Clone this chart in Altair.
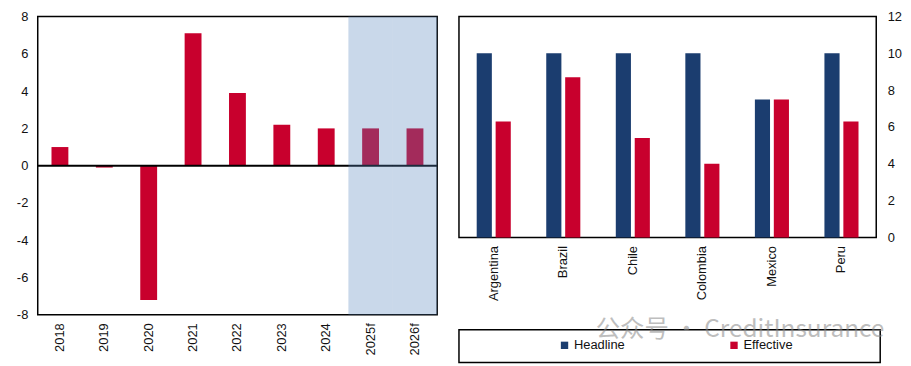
import altair as alt
import pandas as pd

# ---- data ----
years = ["2018", "2019", "2020", "2021", "2022", "2023", "2024", "2025f", "2026f"]
growth = [1.0, -0.1, -7.2, 7.1, 3.9, 2.2, 2.0, 2.0, 2.0]
forecast_years = ["2025f", "2026f"]

countries = ["Argentina", "Brazil", "Chile", "Colombia", "Mexico", "Peru"]
headline = [10.0, 10.0, 10.0, 10.0, 7.5, 10.0]
effective = [6.3, 8.7, 5.4, 4.0, 7.5, 6.3]
series = ["Headline", "Effective"]
series_colors = ["#1B3D6F", "#C8002D"]

left_ticks = [-8, -6, -4, -2, 0, 2, 4, 6, 8]
right_ticks = [0, 2, 4, 6, 8, 10, 12]
watermark = ["公众号 · CreditInsurance"]

FONT = "Liberation Sans"
LBL = "#111111"

left_df = pd.DataFrame({"year": years, "value": growth})
shade_df = pd.DataFrame({"year": forecast_years})
zero_df = pd.DataFrame({"value": [0]})

right_rows = []
for c, h, e in zip(countries, headline, effective):
    right_rows.append({"country": c, "series": series[0], "value": h})
    right_rows.append({"country": c, "series": series[1], "value": e})
right_df = pd.DataFrame(right_rows)

LW, LH = 403, 301
RW, RH = 421, 223

# ---- left chart ----
x_left = alt.X(
    "year:N", sort=years, title=None,
    scale=alt.Scale(domain=years, paddingInner=0.62, paddingOuter=0.31),
    axis=alt.Axis(labelAngle=270, ticks=False, domain=False, labelPadding=8,
                  labelFontSize=13, labelFont=FONT, labelColor=LBL),
)
y_left = alt.Y(
    "value:Q", title=None,
    scale=alt.Scale(domain=[-8, 8], nice=False),
    axis=alt.Axis(values=left_ticks, ticks=False, domain=False, grid=False,
                  labelOverlap=False, labelExpr="'' + datum.value",
                  labelPadding=10, labelFontSize=13, labelFont=FONT, labelColor=LBL),
)

bars_left = alt.Chart(left_df).mark_bar(color="#C8002D").encode(x=x_left, y=y_left)
zero_rule = alt.Chart(zero_df).mark_rule(color="black", strokeWidth=2).encode(y=y_left)
shade = alt.Chart(shade_df).mark_bar(
    color="#5786BE", opacity=0.32, width=alt.RelativeBandSize(1 / 0.38)
).encode(
    x=x_left,
    y=alt.value(0), y2=alt.value(LH),
)

left = alt.layer(bars_left, zero_rule, shade).properties(width=LW, height=LH)

# ---- right chart ----
bars_right = alt.Chart(right_df).mark_bar().encode(
    x=alt.X("country:N", sort=countries, title=None,
            scale=alt.Scale(paddingInner=0.51, paddingOuter=0.255),
            axis=alt.Axis(labelAngle=270, ticks=False, domain=False, labelPadding=8,
                          labelFontSize=13, labelFont=FONT, labelColor=LBL)),
    xOffset=alt.XOffset("series:N", sort=series, scale=alt.Scale(paddingInner=0.2)),
    y=alt.Y("value:Q", title=None, scale=alt.Scale(domain=[0, 12], nice=False),
            axis=alt.Axis(orient="right", values=right_ticks, ticks=False, domain=False,
                          grid=False, labelOverlap=False, labelPadding=11,
                          labelFontSize=13, labelFont=FONT, labelColor=LBL)),
    color=alt.Color("series:N", sort=series,
                    scale=alt.Scale(domain=series, range=series_colors),
                    legend=alt.Legend(orient="none", legendX=525, legendY=325,
                                      direction="horizontal", title=None,
                                      symbolType="square", symbolSize=55,
                                      symbolStrokeWidth=0, columnPadding=103,
                                      labelFontSize=13, labelFont=FONT,
                                      labelColor=LBL, labelOffset=3)),
)

box = alt.Chart(pd.DataFrame({"a": [0]})).mark_rect(
    fillOpacity=0, stroke="black", strokeWidth=1.5
).encode(x=alt.value(0), x2=alt.value(425), y=alt.value(316), y2=alt.value(349))

wm = alt.Chart(pd.DataFrame({"t": watermark})).mark_text(
    align="left", baseline="middle", fontSize=24.6, font="Noto Sans CJK SC",
    color="#8a8a8a", opacity=0.55
).encode(text="t:N", x=alt.value(138), y=alt.value(316))

right = alt.layer(bars_right, box, wm).properties(width=RW, height=RH)

chart = alt.hconcat(left, right, spacing=18).properties(
    padding={"left": 7, "top": 0, "right": 0, "bottom": 0}
).configure_view(stroke="black", strokeWidth=1.5).configure_axis(grid=False)

chart.save("out.html", embed_options={"renderer": "svg", "actions": False})
